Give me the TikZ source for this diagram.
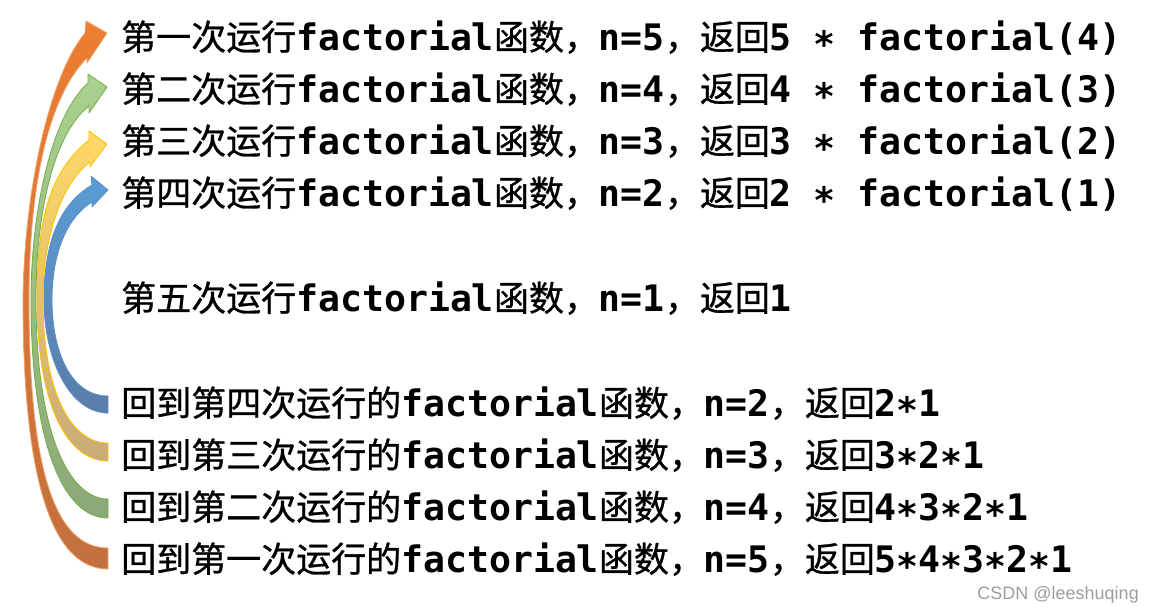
\documentclass[tikz,border=0pt]{standalone}
\usepackage{fontspec}
\newfontfamily\cjk[FakeBold=0.8]{Noto Sans CJK SC}
\newfontfamily\monof{DejaVu Sans Mono}
\newfontfamily\sansf{Liberation Sans}
\newcommand\zh[1]{{\cjk\mdseries\fontsize{35}{40}\selectfont #1}}
\newcommand\stx{\raisebox{-0.2em}{*}}
\definecolor{orTop}{HTML}{ED7D31}
\definecolor{orBot}{HTML}{C2703E}
\definecolor{orLine}{HTML}{F2A36B}
\definecolor{grTop}{HTML}{A9D18E}
\definecolor{grBot}{HTML}{8CA878}
\definecolor{grLine}{HTML}{70AD47}
\definecolor{yeTop}{HTML}{FFD966}
\definecolor{yeBot}{HTML}{C9AA78}
\definecolor{yeLine}{HTML}{FFC000}
\definecolor{blTop}{HTML}{5B9BD5}
\definecolor{blBot}{HTML}{5A7DA8}
\definecolor{blLine}{HTML}{5B8FC8}
\begin{document}
\begin{tikzpicture}[x=1pt,y=-1pt,line join=round,
  txt/.style={anchor=base west,inner sep=0pt,text depth=0pt,font=\monof\bfseries\fontsize{36.5}{40}\selectfont,text=black},
  arr/.style={line width=0.8pt}]
\useasboundingbox (0,0) rectangle (1154,608);
\fill[white] (0,0) rectangle (1154,608);

% orange arrow
\path[arr,draw=orLine,top color=orTop,middle color=orTop,bottom color=orBot]
  (108,569) .. controls (52,569) and (23,480) .. (23,300)
  .. controls (24,190) and (50,75) .. (85,33)
  -- (86,21) -- (107,33) -- (87,63) -- (87,58)
  .. controls (50,95) and (29,180) .. (29,300)
  .. controls (29,470) and (55,548) .. (108,548) -- cycle;
% green arrow
\path[arr,draw=grLine,top color=grTop,middle color=grTop,bottom color=grBot]
  (108,518) .. controls (62,518) and (31,440) .. (31,300)
  .. controls (31,210) and (52,115) .. (88,83)
  -- (88,74) -- (107,87) -- (89,113) -- (89,106)
  .. controls (58,130) and (36,200) .. (36,300)
  .. controls (36,430) and (68,499) .. (108,499) -- cycle;
% yellow arrow
\path[arr,draw=yeLine,top color=yeTop,middle color=yeTop,bottom color=yeBot]
  (108,461) .. controls (65,461) and (37,400) .. (37,300)
  .. controls (37,230) and (45,175) .. (89,140)
  -- (89,131) -- (107,144) -- (90,167) -- (90,162)
  .. controls (60,185) and (43,240) .. (43,300)
  .. controls (43,390) and (70,443) .. (108,443) -- cycle;
% blue arrow
\path[arr,draw=blLine,top color=blTop,middle color=blTop,bottom color=blBot]
  (108,413) .. controls (70,413) and (44,360) .. (44,300)
  .. controls (44,245) and (58,205) .. (92,185)
  -- (91,176) -- (108,190) -- (92,207) -- (92,202)
  .. controls (66,218) and (52,255) .. (52,300)
  .. controls (52,350) and (70,396) .. (108,396) -- cycle;

\node[txt] (l1) at (121,50) {\zh{第一次运行}factorial\zh{函数，}n=5\zh{，返回}5 \stx{} factorial(4)};
\node[txt] (l2) at (121,102) {\zh{第二次运行}factorial\zh{函数，}n=4\zh{，返回}4 \stx{} factorial(3)};
\node[txt] (l3) at (121,154) {\zh{第三次运行}factorial\zh{函数，}n=3\zh{，返回}3 \stx{} factorial(2)};
\node[txt] (l4) at (121,206) {\zh{第四次运行}factorial\zh{函数，}n=2\zh{，返回}2 \stx{} factorial(1)};
\node[txt] (l5) at (121,311) {\zh{第五次运行}factorial\zh{函数，}n=1\zh{，返回}1};
\node[txt] (l6) at (121,416) {\zh{回到第四次运行的}factorial\zh{函数，}n=2\zh{，返回}2\stx{}1};
\node[txt] (l7) at (121,468) {\zh{回到第三次运行的}factorial\zh{函数，}n=3\zh{，返回}3\stx{}2\stx{}1};
\node[txt] (l8) at (121,520) {\zh{回到第二次运行的}factorial\zh{函数，}n=4\zh{，返回}4\stx{}3\stx{}2\stx{}1};
\node[txt] (l9) at (121,572) {\zh{回到第一次运行的}factorial\zh{函数，}n=5\zh{，返回}5\stx{}4\stx{}3\stx{}2\stx{}1};

\node[anchor=base east,inner sep=0pt,font=\sansf\fontsize{18}{20}\selectfont,text=black!38] (csdn) at (1139,599) {CSDN @leeshuqing};
\end{tikzpicture}
\end{document}
